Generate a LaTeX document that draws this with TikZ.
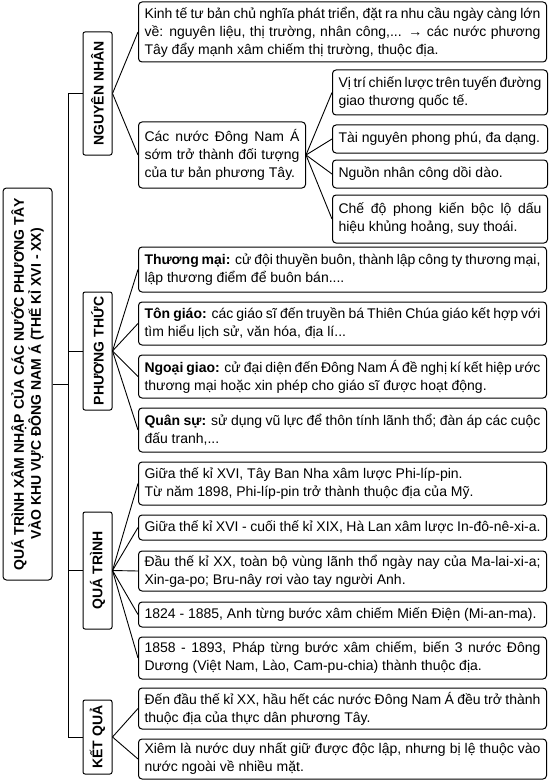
\documentclass[tikz,border=0pt]{standalone}
\usepackage{fontspec}
\setmainfont{Liberation Sans}
\usepackage{tikz}
\hyphenpenalty=10000
\exhyphenpenalty=10000
\begin{document}
\begin{tikzpicture}[x=1pt, y=-1pt,
    leaf/.style={draw, line width=1pt, rounded corners=3.5pt, anchor=west, align=justify,
                 inner xsep=6pt, inner ysep=1pt, font=\fontsize{14}{18}\selectfont},
    cat/.style={draw, line width=1pt, rounded corners=2pt, rotate=90, minimum height=29pt,
                inner sep=0pt, align=center, font=\bfseries\fontsize{14}{17}\selectfont},
    link/.style={line width=0.9pt}]
  \useasboundingbox (0,0) rectangle (550,781);
  \node[cat, minimum width=392pt, minimum height=49pt, rounded corners=3.5pt] (title) at (27.5,384)
        {\textbf{QUÁ TRÌNH XÂM NHẬP CỦA CÁC NƯỚC PHƯƠNG TÂY}\\\textbf{VÀO KHU VỰC ĐÔNG NAM Á (THẾ KỈ XVI - XX)}};
  \node[cat, minimum width=123pt] (nn) at (97.5,93.5) {\textbf{NGUYÊN NHÂN}};
  \node[cat, minimum width=118pt] (pt) at (97.5,351) {\textbf{PHƯƠNG THỨC}};
  \node[cat, minimum width=117pt] (qt) at (97.5,570.5) {\textbf{QUÁ TRÌNH}};
  \node[cat, minimum width=74pt] (kq) at (97.5,737) {\textbf{KẾT QUẢ}};
  \node[leaf, text width=396pt, minimum height=60pt] (a1) at (138,32)
        {Kinh tế tư bản chủ nghĩa phát triển, đặt ra nhu cầu ngày càng lớn\linebreak về: nguyên liệu, thị trường, nhân công,... → các nước phương\linebreak Tây đẩy mạnh xâm chiếm thị trường, thuộc địa.};
  \node[leaf, text width=155pt, minimum height=66pt] (a2) at (138,155)
        {Các nước Đông Nam Á\linebreak sớm trở thành đối tượng\linebreak của tư bản phương Tây.};
  \node[leaf, text width=203pt, minimum height=45pt] (s1) at (332,92.5)
        {Vị trí chiến lược trên tuyến đường\linebreak giao thương quốc tế.};
  \node[leaf, text width=203pt, minimum height=28pt] (s2) at (332,139) {Tài nguyên phong phú, đa dạng.};
  \node[leaf, text width=203pt, minimum height=28pt] (s3) at (332,174) {Nguồn nhân công dồi dào.};
  \node[leaf, text width=203pt, minimum height=48pt] (s4) at (332,219)
        {Chế độ phong kiến bộc lộ dấu\linebreak hiệu khủng hoảng, suy thoái.};
  \node[leaf, text width=396pt, minimum height=45pt] (p1) at (138,269.5)
        {\textbf{Thương mại:} cử đội thuyền buôn, thành lập công ty thương mại,\linebreak lập thương điểm để buôn bán....};
  \node[leaf, text width=396pt, minimum height=43pt] (p2) at (138,323.5)
        {\textbf{Tôn giáo:} các giáo sĩ đến truyền bá Thiên Chúa giáo kết hợp với\linebreak tìm hiểu lịch sử, văn hóa, địa lí...};
  \node[leaf, text width=396pt, minimum height=43pt] (p3) at (138,376.5)
        {\textbf{Ngoại giao:} cử đại diện đến Đông Nam Á đề nghị kí kết hiệp ước\linebreak thương mại hoặc xin phép cho giáo sĩ được hoạt động.};
  \node[leaf, text width=396pt, minimum height=44pt] (p4) at (138,430)
        {\textbf{Quân sự:} sử dụng vũ lực để thôn tính lãnh thổ; đàn áp các cuộc\linebreak đấu tranh,...};
  \node[leaf, text width=396pt, minimum height=43pt] (q1) at (138,483.5)
        {Giữa thế kỉ XVI, Tây Ban Nha xâm lược Phi-líp-pin.\\Từ năm 1898, Phi-líp-pin trở thành thuộc địa của Mỹ.};
  \node[leaf, text width=396pt, minimum height=25pt] (q2) at (138,527.5)
        {Giữa thế kỉ XVI - cuối thế kỉ XIX, Hà Lan xâm lược In-đô-nê-xi-a.};
  \node[leaf, text width=396pt, minimum height=40pt] (q3) at (138,571)
        {Đầu thế kỉ XX, toàn bộ vùng lãnh thổ ngày nay của Ma-lai-xi-a;\linebreak Xin-ga-po; Bru-nây rơi vào tay người Anh.};
  \node[leaf, text width=396pt, minimum height=25pt] (q4) at (138,614.5)
        {1824 - 1885, Anh từng bước xâm chiếm Miến Điện (Mi-an-ma).};
  \node[leaf, text width=396pt, minimum height=42pt] (q5) at (138,658)
        {1858 - 1893, Pháp từng bước xâm chiếm, biến 3 nước Đông\linebreak Dương (Việt Nam, Lào, Cam-pu-chia) thành thuộc địa.};
  \node[leaf, text width=396pt, minimum height=41pt] (k1) at (138,708.5)
        {Đến đầu thế kỉ XX, hầu hết các nước Đông Nam Á đều trở thành\linebreak thuộc địa của thực dân phương Tây.};
  \node[leaf, text width=396pt, minimum height=40pt] (k2) at (138,759)
        {Xiêm là nước duy nhất giữ được độc lập, nhưng bị lệ thuộc vào\linebreak nước ngoài về nhiều mặt.};
  \coordinate (trunk) at (68,0);
  \draw[link] (nn.north -| trunk) -- (kq.north -| trunk);
  \draw[link] (title.south) -- (title.south -| trunk);
  \foreach \c in {nn,pt,qt,kq}
    \draw[link] (\c.north -| trunk) -- (\c.north);
  \foreach \b in {a1,a2}
    \draw[link] (nn.south) -- (\b.west);
  \foreach \b in {s1,s2,s3,s4}
    \draw[link] (a2.east) -- (\b.west);
  \foreach \b in {p1,p2,p3,p4}
    \draw[link] (pt.south) -- (\b.west);
  \foreach \b in {q1,q2,q3,q4,q5}
    \draw[link] (qt.south) -- (\b.west);
  \foreach \b in {k1,k2}
    \draw[link] (kq.south) -- (\b.west);
\end{tikzpicture}
\end{document}
